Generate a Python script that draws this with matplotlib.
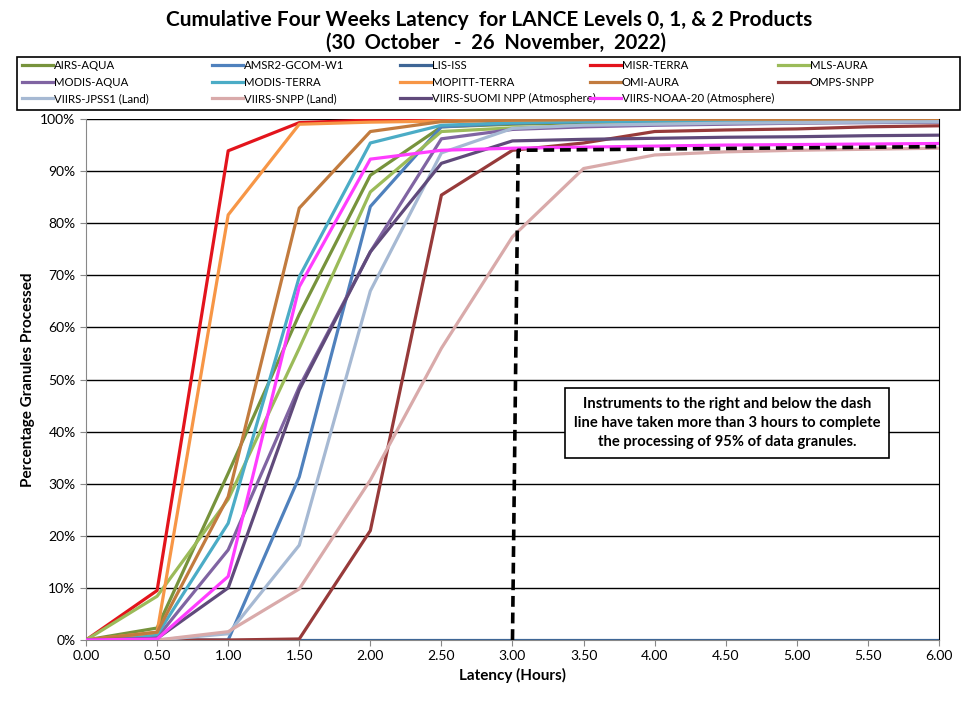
import matplotlib.pyplot as plt
from matplotlib.patches import Rectangle
from matplotlib.ticker import FuncFormatter

plt.rcParams['font.family'] = ['Lato', 'DejaVu Sans']

hours = [0.0, 0.5, 1.0, 1.5, 2.0, 2.5, 3.0, 3.5, 4.0, 4.5, 5.0, 5.5, 6.0]

airs_aqua = [0, 2.3, 32.0, 62.5, 89.2, 98.5, 99.0, 99.3, 99.5, 99.6, 99.7, 99.8, 99.8]
amsr2_gcom = [0, 0, 0, 31.3, 83.2, 98.5, 99.2, 99.5, 99.6, 99.7, 99.8, 99.8, 99.9]
lis_iss = [0, 0, 0, 0, 0, 0, 0, 0, 0, 0, 0, 0, 0]
misr_terra = [0, 9.5, 93.9, 99.3, 99.8, 100, 100, 100, 100, 100, 100, 100, 100]
mls_aura = [0, 8.4, 27.0, 56.0, 86.0, 97.6, 98.3, 98.7, 99.0, 99.2, 99.3, 99.4, 99.5]
modis_aqua = [0, 0.5, 17.3, 48.6, 74.5, 96.2, 98.0, 98.5, 98.8, 99.0, 99.2, 99.3, 99.4]
modis_terra = [0, 1.0, 22.4, 69.7, 95.4, 98.8, 99.3, 99.5, 99.6, 99.7, 99.7, 99.8, 99.8]
mopitt_terra = [0, 1.5, 81.6, 99.0, 99.4, 99.6, 99.8, 99.9, 100, 100, 100, 100, 100]
omi_aura = [0, 1.5, 27.5, 82.9, 97.6, 99.5, 99.8, 99.9, 100, 100, 100, 100, 100]
omps_snpp = [0, 0, 0, 0.2, 21.0, 85.4, 94.0, 95.4, 97.6, 97.9, 98.1, 98.5, 98.7]
viirs_jpss1 = [0, 0, 1.2, 18.2, 67.0, 93.5, 98.2, 98.8, 99.0, 99.2, 99.3, 99.4, 99.5]
viirs_snpp = [0, 0, 1.6, 9.8, 30.7, 56.0, 77.4, 90.5, 93.1, 93.7, 94.0, 94.2, 94.4]
viirs_suomi = [0, 0.3, 10.0, 48.0, 74.5, 91.5, 95.8, 96.1, 96.3, 96.5, 96.6, 96.8, 96.9]
viirs_noaa20 = [0, 0.2, 12.2, 67.8, 92.3, 94.0, 94.4, 94.6, 94.8, 95.0, 95.1, 95.2, 95.3]

threshold_x = [3.0, 3.04, 6.0]
threshold_y = [0, 94.0, 94.7]

series = [
    ('AIRS-AQUA', airs_aqua, '#77933C'),
    ('AMSR2-GCOM-W1', amsr2_gcom, '#4F81BD'),
    ('LIS-ISS', lis_iss, '#3E6696'),
    ('MISR-TERRA', misr_terra, '#E3141C'),
    ('MLS-AURA', mls_aura, '#9BBB59'),
    ('MODIS-AQUA', modis_aqua, '#8064A2'),
    ('MODIS-TERRA', modis_terra, '#4BACC6'),
    ('MOPITT-TERRA', mopitt_terra, '#F79646'),
    ('OMI-AURA', omi_aura, '#C27B3E'),
    ('OMPS-SNPP', omps_snpp, '#973A3A'),
    ('VIIRS-JPSS1 (Land)', viirs_jpss1, '#A6B9D3'),
    ('VIIRS-SNPP (Land)', viirs_snpp, '#D9AAAA'),
    ('VIIRS-SUOMI NPP (Atmosphere)', viirs_suomi, '#604A7B'),
    ('VIIRS-NOAA-20 (Atmosphere)', viirs_noaa20, '#FF3DFF'),
]

W, H = 972, 703
fig = plt.figure(figsize=(W / 100, H / 100), dpi=100)
ax = fig.add_axes([0.0885, 0.0896, 0.8775, 0.7411])

for y in range(10, 101, 10):
    ax.axhline(y, color='black', lw=1.0, zorder=1)

handles = []
for name, vals, col in series:
    line, = ax.plot(hours, vals, color=col, lw=2.3, label=name, zorder=3)
    handles.append(line)

ax.plot(threshold_x, threshold_y, color='black', lw=2.6, ls=(0, (3, 1.6)), zorder=4)

ax.set_xlim(0, 6)
ax.set_ylim(0, 100)
ax.set_xticks([i * 0.5 for i in range(13)])
ax.xaxis.set_major_formatter(FuncFormatter(lambda v, p: f'{v:.2f}'))
ax.set_yticks(range(0, 101, 10))
ax.yaxis.set_major_formatter(FuncFormatter(lambda v, p: f'{v:.0f}%'))
ax.tick_params(axis='both', labelsize=10, direction='out', length=4, color='#888888')
for s in ['left', 'bottom']:
    ax.spines[s].set_color('#888888')
ax.spines['right'].set_color('black')
ax.spines['top'].set_visible(False)

ax.set_xlabel('Latency (Hours)', fontsize=11, fontweight='bold')
ax.set_ylabel('Percentage Granules Processed', fontsize=11, fontweight='bold')

ax.text(4.51, 41.6,
        'Instruments to the right and below the dash\n'
        'line have taken more than 3 hours to complete\n'
        'the processing of 95% of data granules.',
        ha='center', va='center', fontsize=10.6, fontweight='bold', linespacing=1.45,
        bbox=dict(boxstyle='square,pad=0.6', fc='white', ec='black', lw=1.2), zorder=5)

fig.text(0.503, 0.972, 'Cumulative Four Weeks Latency  for LANCE Levels 0, 1, & 2 Products',
         ha='center', va='center', fontsize=15, fontweight='bold')
fig.text(0.51, 0.94, '(30  October   -  26  November,  2022)',
         ha='center', va='center', fontsize=14.5, fontweight='bold')

# legend box with five evenly spaced columns, entries go row by row
fig.add_artist(Rectangle((17 / W, 1 - 110 / H), 943 / W, 53 / H, transform=fig.transFigure,
                         fill=False, ec='black', lw=1.2))
col_x = [22, 212, 400, 590, 778]
for c, x0 in enumerate(col_x):
    idx = list(range(c, len(series), 5))
    fig.legend([handles[i] for i in idx], [series[i][0] for i in idx],
               loc='upper left', bbox_to_anchor=(x0 / W, 1 - 60 / H),
               fontsize=8.2, frameon=False, handlelength=2.7, handletextpad=0.1,
               labelspacing=0.5, borderpad=0, borderaxespad=0)

fig.savefig('out.png', dpi=100)
